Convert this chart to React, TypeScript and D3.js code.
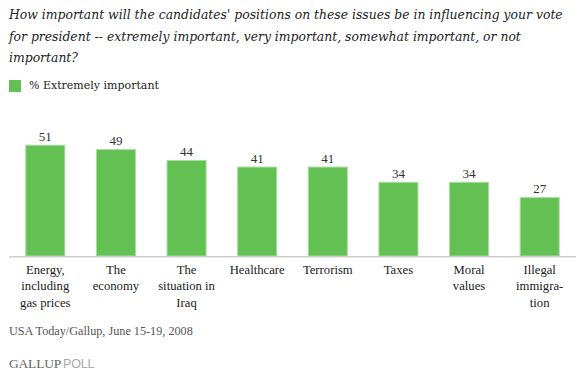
import React from "react";
import * as d3 from "d3";

const categories: string[][] = [
  ["Energy,", "including", "gas prices"],
  ["The", "economy"],
  ["The", "situation in", "Iraq"],
  ["Healthcare"],
  ["Terrorism"],
  ["Taxes"],
  ["Moral", "values"],
  ["Illegal", "immigra-", "tion"],
];
const values: number[] = [51, 49, 44, 41, 41, 34, 34, 27];
const titleLines: string[] = [
  "How important will the candidates' positions on these issues be in influencing your vote",
  "for president -- extremely important, very important, somewhat important, or not",
  "important?",
];
const legendLabel = "% Extremely important";
const sourceText = "USA Today/Gallup, June 15-19, 2008";

const W = 582;
const H = 376;
const FONT_D = "'DejaVu Serif', 'Liberation Serif', serif";
const FONT_L = "'Liberation Serif', 'DejaVu Serif', serif";

export default function App() {
  const ids = d3.range(values.length).map(String);
  const x = d3.scaleBand<string>().domain(ids).range([10, 575]).paddingInner(0.433).paddingOuter(0.2165);
  const y = d3.scaleLinear().domain([0, 55]).range([256, 136]);
  const bw = x.bandwidth();

  return (
    <div style={{ position: "absolute", left: 0, top: 0 }}>
      <svg width={W} height={H} style={{ display: "block", background: "#fff" }}>
        {titleLines.map((t, i) => (
          <text key={i} x={9} y={19 + i * 21.5} fontFamily={FONT_D} fontStyle="italic" fontSize={12.4} fill="#222">
            {t}
          </text>
        ))}
        <rect x={9} y={80} width={12} height={12} fill="#63c153" />
        <text x={29} y={89} fontFamily={FONT_D} fontSize={11} fill="#222">{legendLabel}</text>

        {values.map((v, i) => (
          <g key={i}>
            <rect
              x={(x(String(i)) as number) + 0.5}
              y={y(v) + 0.5}
              width={bw - 1}
              height={y(0) - y(v) - 0.5}
              fill="#63c153"
              stroke="#a9dca0"
              strokeWidth={1}
            />
            <text
              x={(x(String(i)) as number) + bw / 2}
              y={y(v) - 4}
              textAnchor="middle"
              fontFamily={FONT_L}
              fontSize={13}
              fill="#333"
            >
              {v}
            </text>
          </g>
        ))}
        <line x1={9} x2={576} y1={256.8} y2={256.8} stroke="#cccccc" strokeWidth={1.6} />

        {categories.map((lines, i) =>
          lines.map((l, j) => (
            <text
              key={i + "-" + j}
              x={(x(String(i)) as number) + bw / 2}
              y={274 + j * 16.3}
              textAnchor="middle"
              fontFamily={FONT_L}
              fontSize={12.7}
              fill="#222"
            >
              {l}
            </text>
          ))
        )}

        <text x={9} y={335} fontFamily={FONT_L} fontSize={12.2} fill="#555">{sourceText}</text>

        <text x={9} y={368} fontFamily={FONT_L} fontSize={13.5} fill="#666" letterSpacing={-0.2}>
          GALLUP
          <tspan fontFamily="'Liberation Sans', Arial, sans-serif" fill="#aaa" fontSize={12.5} dx={2}>POLL</tspan>
        </text>
      </svg>
    </div>
  );
}
